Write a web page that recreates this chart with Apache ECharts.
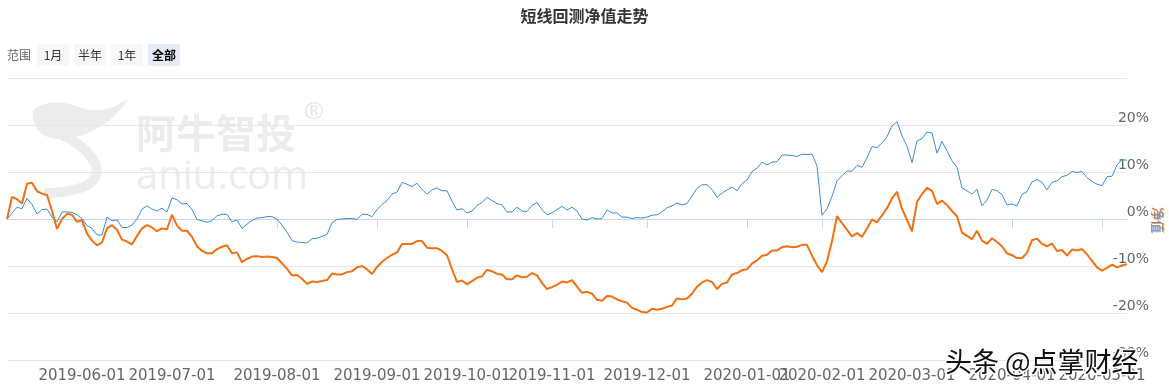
<!DOCTYPE html>
<html><head><meta charset="utf-8">
<script src="https://cdn.jsdelivr.net/npm/echarts@6/dist/echarts.min.js"></script>
<style>html,body{margin:0;padding:0;background:#fff}#c{width:1169px;height:391px}</style>
</head><body><div id="c"></div>
<script>
const titleText = '短线回测净值走势';
const rangeButtons = ['1月', '半年', '1年', '全部'];
const yTicks = [-30, -20, -10, 0, 10, 20, 30];
const tickLabels = ['2019-06-01','2019-07-01','2019-08-01','2019-09-01','2019-10-01','2019-11-01','2019-12-01','2020-01-01','2020-02-01','2020-03-01','2020-04-01','2020-05-01'];
const tickIndex = [15, 33, 54, 74, 92, 109, 128, 148, 163, 181, 201, 219];
const blue = [0,1.2,2.5,2.2,4.4,3.1,1.1,2.0,2.1,0.4,-0.6,1.5,1.5,1.4,0.9,0.1,-1.4,-2.0,-3.4,-3.4,
0.4,-0.4,-0.2,-1.8,-1.8,-1.3,0,2.1,2.8,2.1,1.7,2.3,1.5,4.5,4.1,3.2,3.3,2.0,-0.1,-0.4,
-0.7,-0.4,0.7,1.0,1.0,-0.6,-0.2,-2.0,-1.1,-0.3,0.2,0.3,0.5,0.5,0,-1.3,-2.8,-4.6,-4.9,-5.0,
-5.1,-4.2,-4.1,-3.7,-3.3,-0.8,-0.1,0,0.1,0.1,-0.1,1.0,1.0,0.5,2.0,3.1,3.9,5.3,5.7,7.8,
7.4,6.9,7.6,6.3,5.3,6.2,6.6,6.0,6.0,3.8,1.9,2.2,1.3,1.7,2.9,3.5,4.6,3.9,3.3,3.0,
1.5,1.5,2.5,1.7,1.6,2.9,3.5,2.0,0.9,1.3,2.0,2.7,1.9,2.5,1.7,0,-0.2,0.3,0,0.1,
1.9,1.3,1.3,0.4,0.4,0.1,0.3,0.2,0.4,0.8,0.9,1.5,2.4,2.8,3.4,3.0,3.3,4.9,6.5,7.3,
7.3,6.3,4.6,5.5,6.2,6.8,6.0,7.5,8.3,10.1,10.8,12.1,11.5,12.1,12.2,13.6,13.6,13.5,13.3,13.8,
13.7,13.8,11.3,0.8,2.2,4.8,8.1,9.2,10.2,10.2,11.4,11.0,13.0,15.4,15.2,16.2,17.5,19.8,20.7,17.7,
15.5,12.0,16.6,17.1,18.5,18.3,14.0,16.5,14.5,12.4,11.0,6.6,6.0,5.3,6.3,2.8,4.0,6.3,6.0,5.2,
3.0,3.2,2.8,5.2,5.8,7.9,8.4,7.8,6.2,7.8,8.1,9.0,9.3,10.1,9.9,10.1,8.8,8.0,7.4,7.1,
9.0,9.1,11.5,12.6,12.5];
const orange = [0,4.7,4.2,3.3,7.5,7.7,5.9,5.4,5.1,1.7,-2.1,0.0,1.1,0.9,-0.6,-0.2,-3.1,-4.6,-5.6,-5.0,
-2.0,-1.3,-2.3,-4.4,-4.8,-5.4,-3.6,-2.0,-1.3,-1.8,-2.6,-2.0,-2.2,0.9,-1.4,-2.5,-2.5,-3.8,-5.8,-6.8,
-7.3,-7.3,-6.4,-5.9,-5.6,-7.3,-7.1,-9.2,-8.5,-8.0,-7.9,-8.1,-8.0,-8.1,-8.3,-9.4,-10.6,-12.0,-11.9,-12.7,
-13.8,-13.3,-13.4,-13.2,-13.0,-11.6,-11.8,-11.8,-11.3,-11.1,-10.3,-10.0,-10.7,-11.7,-10.2,-9.1,-8.3,-7.6,-7.1,-5.3,
-5.3,-5.3,-4.7,-4.7,-6.1,-6.2,-6.2,-6.8,-7.7,-10.7,-13.4,-13.1,-13.9,-13.2,-12.5,-12.2,-10.8,-11.1,-11.7,-11.8,
-12.8,-12.8,-12.0,-12.4,-12.3,-11.5,-12.0,-13.6,-14.9,-14.5,-14.0,-13.3,-13.5,-13.0,-14.4,-15.7,-15.5,-15.9,-17.2,-17.4,
-16.4,-16.5,-17.1,-17.5,-17.8,-18.9,-19.3,-19.8,-19.9,-19.1,-19.3,-19.1,-18.7,-18.4,-16.9,-17.1,-16.9,-15.9,-14.4,-13.5,
-13.0,-13.4,-14.9,-13.8,-13.5,-11.8,-11.5,-10.9,-10.7,-9.5,-8.8,-7.8,-7.6,-6.7,-6.7,-6.0,-5.8,-6.0,-5.9,-5.5,
-5.5,-7.8,-9.8,-11.3,-9.0,-4.7,0.6,-0.9,-2.3,-3.7,-3.0,-3.8,-2.0,-0.1,-0.7,0.8,2.3,4.4,5.8,2.2,
-0.2,-2.6,3.6,5.3,6.6,6.0,3.2,3.9,3.0,1.7,0.6,-2.9,-3.6,-4.3,-2.5,-4.6,-5.3,-4.1,-4.9,-5.8,
-7.3,-7.7,-8.3,-8.3,-7.2,-4.5,-4.2,-5.3,-5.8,-5.2,-6.8,-6.6,-7.8,-6.5,-6.7,-6.4,-7.5,-8.9,-10.3,-11.0,
-10.4,-9.7,-10.3,-9.9,-9.6];

const labelAt = {};
tickIndex.forEach((ix, k) => { labelAt[ix] = tickLabels[k]; });
const categories = blue.map((_, i) => labelAt[i] !== undefined ? labelAt[i] : 'd' + i);
const isTick = (i) => labelAt[i] !== undefined;

const chart = echarts.init(document.getElementById('c'), null, {renderer: 'canvas'});

const btnGraphics = [];
btnGraphics.push({type: 'text', style: {x: 7, y: 55, text: '范围', textVerticalAlign: 'middle', fill: '#666', font: '12px "Noto Sans CJK SC"'}});
rangeButtons.forEach((t, k) => {
  const sel = k === rangeButtons.length - 1;
  btnGraphics.push({type: 'rect', shape: {x: 37 + k * 37, y: 44, width: 32, height: 22, r: 2},
    style: {fill: sel ? '#e6ebf5' : '#f7f7f7'}});
  btnGraphics.push({type: 'text', style: {x: 53 + k * 37, y: 55, text: t, textAlign: 'center', textVerticalAlign: 'middle',
    fill: sel ? '#000' : '#333', font: (sel ? 'bold ' : '') + '12px "Noto Sans CJK SC"'}});
});

const wm = '#ececec';
const watermark = [
  {type: 'polygon', z: -10, shape: {smooth: 0.4, points: [[35,124],[34,110],[50,103],[70,104],[90,110],[110,108],[127,100],[112,118],[94,130],[70,138],[45,136]]}, style: {fill: wm}},
  {type: 'bezierCurve', z: -10, shape: {x1: 64, y1: 136, cpx1: 95, cpy1: 150, cpx2: 125, cpy2: 190, x2: 48, y2: 193}, style: {stroke: wm, lineWidth: 10, fill: null, lineCap: 'round'}},
  {type: 'text', z: -10, style: {x: 136, y: 133, text: '阿牛智投', textVerticalAlign: 'middle', fill: wm, font: 'bold 40px "Noto Sans CJK SC"'}},
  {type: 'text', z: -10, style: {x: 304, y: 112, text: '®', textVerticalAlign: 'middle', fill: '#e6e6e6', font: '24px "Open Sans"'}},
  {type: 'text', z: -10, style: {x: 136, y: 178, text: 'aniu.com', textVerticalAlign: 'middle', fill: wm, font: '40px "Open Sans"'}},
  {type: 'text', z: 100, style: {x: 945, y: 362, text: '头条 @点掌财经', textVerticalAlign: 'middle', fill: '#111', stroke: '#fff', lineWidth: 3, font: '27px "Noto Sans CJK SC"'}},
  {type: 'text', z: 50, rotation: -Math.PI / 2, x: 1158, y: 220, style: {x: 0, y: 0, text: '净值', textAlign: 'center', textVerticalAlign: 'middle', fill: '#f2700f', font: '13px "Noto Sans CJK SC"'}},
  {type: 'text', z: 51, rotation: -Math.PI / 2, x: 1159, y: 221, style: {x: 0, y: 0, text: '净值', textAlign: 'center', textVerticalAlign: 'middle', fill: 'rgba(70,140,215,0.6)', font: '13px "Noto Sans CJK SC"'}}
];

chart.setOption({
  animation: false,
  title: {text: titleText, left: 'center', top: 3, textStyle: {fontSize: 16, fontWeight: 'bold', color: '#333', fontFamily: '"Noto Sans CJK SC"'}},
  grid: {left: 7, right: 42, top: 78, bottom: 31, containLabel: false},
  xAxis: {
    type: 'category', data: categories, boundaryGap: false,
    axisLine: {lineStyle: {color: '#ccd6eb'}},
    axisTick: {length: 9, lineStyle: {color: '#ccd6eb'}, interval: (i) => isTick(i)},
    axisLabel: {interval: (i) => isTick(i), formatter: (v, i) => labelAt[i] || '', color: '#666', fontSize: 15, fontFamily: 'DejaVu Sans', margin: 9},
    splitLine: {show: false}
  },
  yAxis: {
    type: 'value', position: 'right', min: yTicks[0], max: yTicks[yTicks.length - 1], interval: 10,
    axisLine: {show: false}, axisTick: {show: false},
    splitLine: {lineStyle: {color: '#e6e6e6'}},
    axisLabel: {formatter: '{value}%', align: 'right', verticalAlign: 'bottom', margin: 22, color: '#666', fontSize: 14, fontFamily: 'DejaVu Sans', showMaxLabel: false}
  },
  series: [
    {type: 'line', data: blue, showSymbol: false, lineStyle: {color: '#3a8bd6', width: 1}, itemStyle: {color: '#3a8bd6'}},
    {type: 'line', data: orange, showSymbol: false, lineStyle: {color: '#f2700f', width: 2}, itemStyle: {color: '#f2700f'}}
  ],
  graphic: btnGraphics.concat(watermark)
});
</script></body></html>
